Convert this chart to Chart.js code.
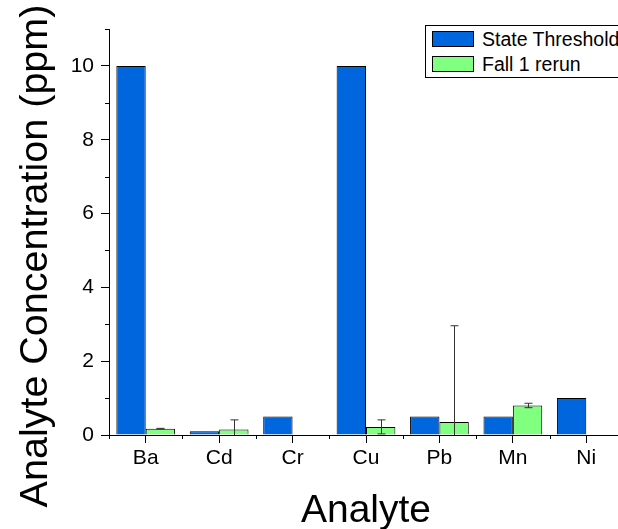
<!DOCTYPE html>
<html>
<head>
<meta charset="utf-8">
<script src="https://cdn.jsdelivr.net/npm/chart.js@4/dist/chart.umd.min.js"></script>
<style>
  html, body { margin: 0; padding: 0; background: #fff; overflow: hidden; }
  #wrap { position: relative; width: 630px; height: 529px; }
  #legend {
    position: absolute; left: 425px; top: 25px; width: 200px; height: 51px;
    border: 1px solid #000; background: #fff;
    font-family: "Liberation Sans", Arial, sans-serif; font-size: 19.5px; color: #000;
  }
  .item { position: absolute; left: 6px; height: 16px; line-height: 16px; white-space: nowrap; }
  .swatch { display: inline-block; width: 40px; height: 14px; border: 1px solid #000; vertical-align: top; margin-right: 8px; }
</style>
</head>
<body>
<div id="wrap">
  <canvas id="chart" width="630" height="529"></canvas>
  <div id="legend">
    <div class="item" style="top:5px"><span class="swatch" style="background:#0066dd"></span>State Threshold</div>
    <div class="item" style="top:30px"><span class="swatch" style="background:#80ff80"></span>Fall 1 rerun</div>
  </div>
</div>
<script>
const analytes = ["Ba", "Cd", "Cr", "Cu", "Pb", "Mn", "Ni"];
const stateThreshold = [10, 0.1, 0.5, 10, 0.5, 0.5, 1];
const fallRerun = [0.17, 0.15, null, 0.22, 0.35, 0.8, null];
const fallRerunErr = [0.01, 0.26, null, 0.19, 2.61, 0.06, null];
const yTicks = [0, 2, 4, 6, 8, 10];
const xTitle = "Analyte";
const yTitle = "Analyte Concentration (ppm)";

Chart.defaults.font.family = '"Liberation Sans", Arial, sans-serif';
Chart.defaults.color = "#000";

// error bars for the rerun series, short minor ticks, and both axis titles
const extras = {
  id: "extras",
  afterDatasetsDraw(chart) {
    const { ctx, chartArea, scales } = chart;
    const x = scales.x, y = scales.y;
    const meta = chart.getDatasetMeta(1);

    ctx.save();
    ctx.beginPath();
    ctx.rect(chartArea.left, chartArea.top, chartArea.right - chartArea.left, chartArea.bottom - chartArea.top);
    ctx.clip();
    ctx.strokeStyle = "#333";
    ctx.lineWidth = 1;
    fallRerun.forEach((v, i) => {
      if (v == null) return;
      const cx = Math.round(meta.data[i].x) + 0.5;
      const top = y.getPixelForValue(v + fallRerunErr[i]);
      const bot = y.getPixelForValue(v - fallRerunErr[i]);
      ctx.beginPath();
      ctx.moveTo(cx, top); ctx.lineTo(cx, bot);
      ctx.moveTo(cx - 4, top); ctx.lineTo(cx + 4, top);
      ctx.moveTo(cx - 4, bot); ctx.lineTo(cx + 4, bot);
      ctx.stroke();
    });
    ctx.restore();

    ctx.save();
    ctx.strokeStyle = "#000";
    ctx.lineWidth = 1;
    ctx.beginPath();
    for (let v = 1; v <= 11; v += 2) {
      const py = Math.round(y.getPixelForValue(v)) + 0.5;
      ctx.moveTo(chartArea.left - 4, py); ctx.lineTo(chartArea.left, py);
    }
    for (let i = 0; i <= analytes.length; i++) {
      const px = Math.round(x.getPixelForValue(i - 0.5)) + 0.5;
      ctx.moveTo(px, chartArea.bottom); ctx.lineTo(px, chartArea.bottom + 4);
    }
    ctx.stroke();

    ctx.font = '39px "Liberation Sans", Arial, sans-serif';
    ctx.fillStyle = "#000";
    ctx.textAlign = "center";
    ctx.textBaseline = "alphabetic";
    ctx.fillText(xTitle, (chartArea.left + chartArea.right) / 2, 522);

    // rotated y title, sitting a little below the plot centre
    ctx.translate(47, 256);
    ctx.rotate(-Math.PI / 2);
    ctx.font = '39.5px "Liberation Sans", Arial, sans-serif';
    ctx.fillText(yTitle, 0, 0);
    ctx.restore();
  }
};

new Chart(document.getElementById("chart"), {
  type: "bar",
  data: {
    labels: analytes,
    datasets: [
      {
        label: "State Threshold",
        data: stateThreshold,
        backgroundColor: "#0066dd",
        borderColor: "#000",
        borderWidth: 1,
        barPercentage: 1,
        categoryPercentage: 0.8,
      },
      {
        label: "Fall 1 rerun",
        data: fallRerun,
        backgroundColor: "#80ff80",
        borderColor: "#000",
        borderWidth: 1,
        barPercentage: 1,
        categoryPercentage: 0.8,
      },
    ],
  },
  options: {
    responsive: false,
    animation: false,
    layout: { padding: { top: 29, right: 7, left: 0, bottom: 0 } },
    plugins: { legend: { display: false }, tooltip: { enabled: false } },
    scales: {
      x: {
        offset: true,
        grid: { offset: false, drawOnChartArea: false, tickLength: 8, tickColor: "#000" },
        border: { color: "#000", width: 1 },
        ticks: { font: { size: 21 }, padding: 3, color: "#000" },
        afterFit: (s) => { s.height = 94; },
      },
      y: {
        min: 0,
        max: 11,
        grid: { drawOnChartArea: false, tickLength: 8, tickColor: (c) => (yTicks.includes(c.tick.value) ? "#000" : "rgba(0,0,0,0)") },
        border: { color: "#000", width: 1 },
        ticks: {
          stepSize: 1,
          font: { size: 21 },
          padding: 7,
          color: "#000",
          callback: (v) => (yTicks.includes(v) ? v : ""),
        },
        afterFit: (s) => { s.width = 109; },
      },
    },
  },
  plugins: [extras],
});
</script>
</body>
</html>
